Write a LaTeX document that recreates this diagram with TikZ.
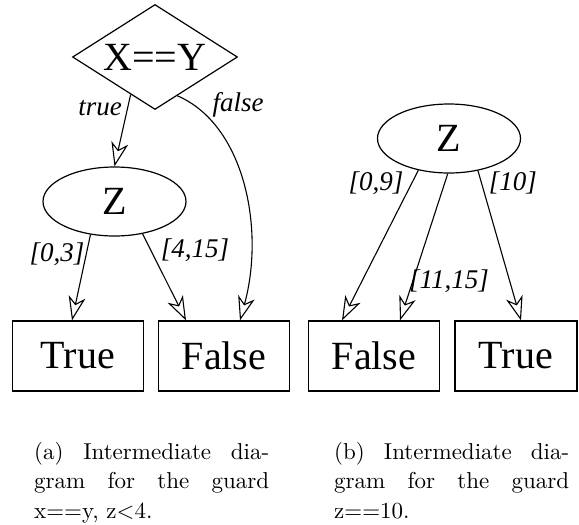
\documentclass[tikz,border=0pt]{standalone}
\usepackage{fontspec}
\usetikzlibrary{shapes.geometric,arrows.meta}
\newfontfamily\tms{Liberation Serif}
\newcommand{\capline}[1]{\makebox[102.2pt][s]{#1}}
\begin{document}
\begin{tikzpicture}[x=1pt,y=-1pt,
  every node/.style={inner sep=0pt},
  bigtxt/.style={font=\tms\fontsize{40}{44}\selectfont},
  dia/.style={draw,line width=1.2pt,diamond,aspect=1.57,minimum width=165pt,minimum height=105pt,bigtxt},
  ell/.style={draw,line width=1.2pt,ellipse,minimum width=143pt,minimum height=69pt,bigtxt},
  leaf/.style={draw,line width=1.2pt,rectangle,minimum width=131pt,minimum height=70pt,font=\tms\fontsize{40}{42}\selectfont},
  lab/.style={font=\tms\itshape\fontsize{27}{30}\selectfont},
  arr/.style={line width=1.1pt,-{Stealth[open,length=24pt,width=17pt,inset=7pt,line width=1.1pt]}},
  captxt/.style={anchor=north west,align=left,font=\fontsize{10}{12.8}\selectfont}]
\useasboundingbox (0,0) rectangle (579,525);
% (a)
\node[dia] (d) at (155,57) {X==Y};
\node[ell] (z1) at (114.5,201.5) {Z};
\node[leaf] (t1) at (78,356) {True};
\node[leaf] (f1) at (224,356) {False};
\draw[arr] (d.237) -- (z1.north);
\draw[arr] (d.-60) .. controls (245,125) and (265,230) .. ([xshift=16pt]f1.north);
\draw[arr] (z1.234) -- ([xshift=-6pt]t1.north);
\draw[arr] (z1.311) -- ([xshift=-38pt]f1.north);
\node[lab] (lt) at (100,108) {true};
\node[lab] (lf) at (238,105) {false};
\node[lab] (l03) at (57,254) {[0,3]};
\node[lab] (l415) at (195,250) {[4,15]};
% (b)
\node[ell] (z2) at (449,138.5) {Z};
\node[leaf] (f2) at (374,356) {False};
\node[leaf,minimum width=122pt] (t2) at (516,356) {True};
\draw[arr] (z2.226) -- ([xshift=-32pt]f2.north);
\draw[arr] (z2.268) -- ([xshift=26pt]f2.north);
\draw[arr] (z2.312) -- ([xshift=5pt]t2.north);
\node[lab] (l09) at (376,183) {[0,9]};
\node[lab] (l10) at (513,183) {[10]};
\node[lab] (l1115) at (449,281) {[11,15]};
% captions
\node[captxt] (ca) at (34,442) {\scalebox{2.3}{\parbox[t]{102.2pt}{\capline{(a) Intermediate dia-}\\\capline{gram for the guard}\\x==y, z$<$4.}}};
\node[captxt] (cb) at (334,442) {\scalebox{2.3}{\parbox[t]{102.2pt}{\capline{(b) Intermediate dia-}\\\capline{gram for the guard}\\z==10.}}};
\end{tikzpicture}
\end{document}
